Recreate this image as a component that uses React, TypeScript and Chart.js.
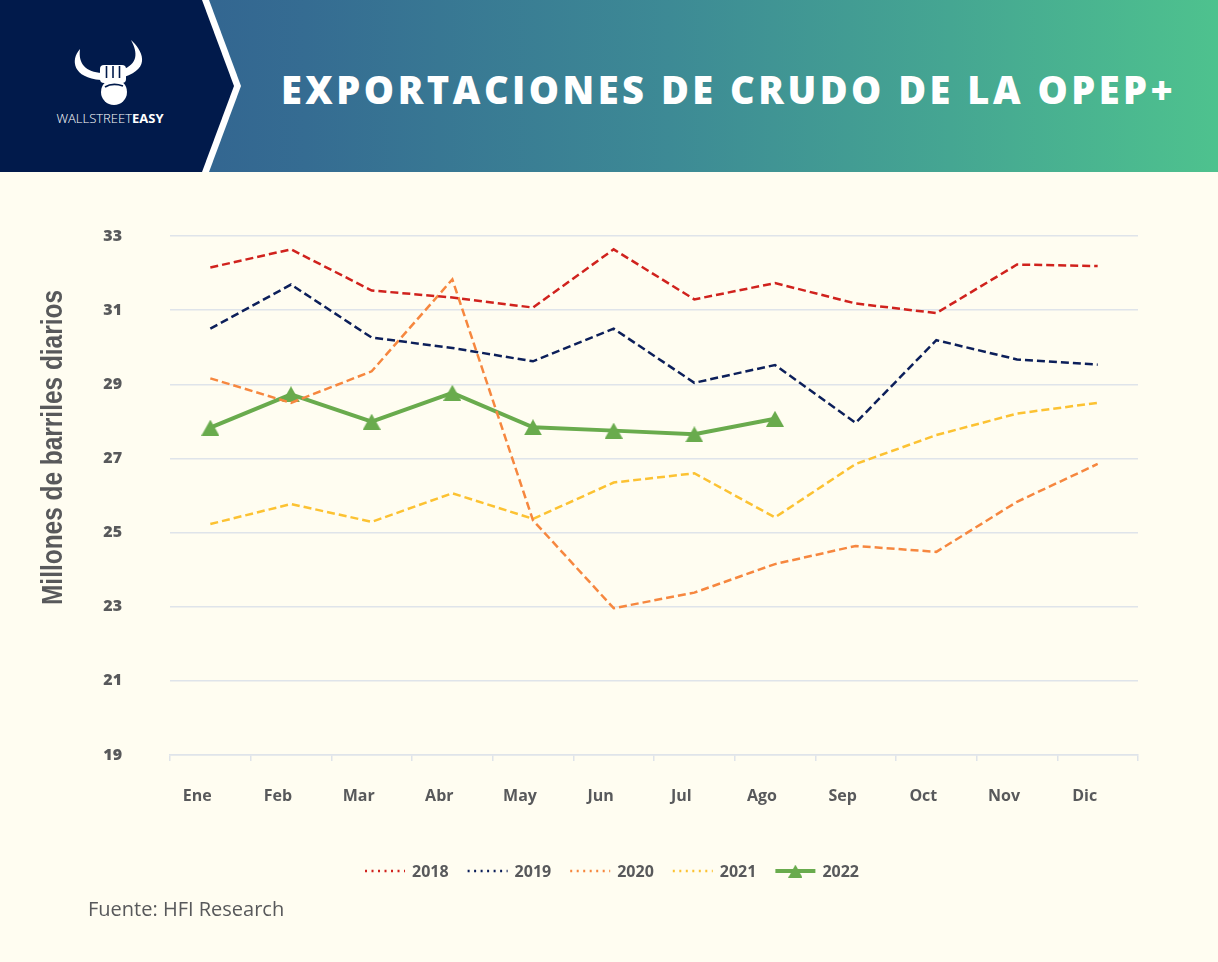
import React, { useEffect, useRef } from "react";
import { Chart, registerables } from "chart.js";

Chart.register(...registerables);

const months = ["Ene", "Feb", "Mar", "Abr", "May", "Jun", "Jul", "Ago", "Sep", "Oct", "Nov", "Dic"];
const y2018 = [32.15, 32.64, 31.53, 31.34, 31.07, 32.64, 31.29, 31.73, 31.18, 30.92, 32.23, 32.19];
const y2019 = [30.5, 31.69, 30.26, 29.98, 29.62, 30.5, 29.04, 29.52, 27.96, 30.19, 29.67, 29.53];
const y2020 = [29.16, 28.5, 29.35, 31.83, 25.33, 22.96, 23.38, 24.15, 24.64, 24.48, 25.83, 26.85];
const y2021 = [25.23, 25.77, 25.29, 26.06, 25.37, 26.35, 26.6, 25.41, 26.85, 27.63, 28.21, 28.5];
const y2022 = [27.83, 28.73, 27.99, 28.77, 27.84, 27.75, 27.65, 28.07];
const seriesLabels = ["2018", "2019", "2020", "2021", "2022"];
const yTicks = [19, 21, 23, 25, 27, 29, 31, 33];
const yTitle = "Millones de barriles diarios";

const TEXT = "#58595b";
const GRID = "#dfe4ea";
const BG = "#fffdf1";
const COLORS = ["#d0221d", "#0c1f5a", "#f6873f", "#fcc232", "#69ab4d"];

function makeTriangle(color: string) {
  const c = document.createElement("canvas");
  c.width = 18;
  c.height = 16;
  const g = c.getContext("2d")!;
  g.fillStyle = color;
  g.beginPath();
  g.moveTo(0, 16);
  g.lineTo(9, 0);
  g.lineTo(18, 16);
  g.closePath();
  g.fill();
  return c;
}

const yTitlePlugin = {
  id: "condensedYTitle",
  afterDraw(chart: any) {
    const ctx = chart.ctx as CanvasRenderingContext2D;
    ctx.save();
    ctx.font = "bold 29px 'Liberation Sans', Arial, sans-serif";
    const w = ctx.measureText(yTitle).width;
    const target = 315;
    ctx.translate(62, 275.5);
    ctx.rotate(-Math.PI / 2);
    ctx.scale(target / w, 1);
    ctx.fillStyle = TEXT;
    ctx.textAlign = "center";
    ctx.textBaseline = "alphabetic";
    ctx.fillText(yTitle, 0, 0);
    ctx.restore();
  },
};

const legendPlugin = {
  id: "customLegend",
  afterDraw(chart: any) {
    const ctx = chart.ctx as CanvasRenderingContext2D;
    const ds = chart.data.datasets;
    const y = chart.height - 31;
    ctx.save();
    ctx.font = "bold 16px 'Open Sans', sans-serif";
    const lineW = 40;
    const gap = 7;
    const itemGap = 19;
    const widths = ds.map((d: any) => lineW + gap + ctx.measureText(d.label).width);
    const total = widths.reduce((a: number, b: number) => a + b, 0) + itemGap * (ds.length - 1);
    let x = 612 - total / 2;
    ds.forEach((d: any, i: number) => {
      ctx.strokeStyle = d.borderColor;
      if (d.borderDash && d.borderDash.length) {
        ctx.setLineDash([2, 4.5]);
        ctx.lineWidth = 2.5;
      } else {
        ctx.setLineDash([]);
        ctx.lineWidth = 4;
      }
      ctx.beginPath();
      ctx.moveTo(x, y);
      ctx.lineTo(x + lineW, y);
      ctx.stroke();
      ctx.setLineDash([]);
      if (d.pointStyle && typeof d.pointStyle !== "string") {
        const img = d.pointStyle as HTMLCanvasElement;
        ctx.drawImage(img, x + lineW / 2 - 7, y - 6.5, 14, 13);
      }
      ctx.fillStyle = TEXT;
      ctx.textBaseline = "middle";
      ctx.textAlign = "left";
      ctx.fillText(d.label, x + lineW + gap, y + 1);
      x += widths[i] + itemGap;
    });
    ctx.restore();
  },
};

export default function App() {
  const ref = useRef<HTMLCanvasElement | null>(null);

  useEffect(() => {
    document.body.style.margin = "0";
    const canvas = ref.current!;
    const tri = makeTriangle(COLORS[4]);
    const dashed = (label: string, data: number[], color: string) => ({
      label,
      data,
      borderColor: color,
      backgroundColor: color,
      borderWidth: 2.5,
      borderDash: [8, 4],
      pointRadius: 0,
      fill: false,
      tension: 0,
    });
    const chart = new Chart(canvas, {
      type: "line",
      data: {
        labels: months,
        datasets: [
          dashed(seriesLabels[0], y2018, COLORS[0]),
          dashed(seriesLabels[1], y2019, COLORS[1]),
          dashed(seriesLabels[2], y2020, COLORS[2]),
          dashed(seriesLabels[3], y2021, COLORS[3]),
          {
            label: seriesLabels[4],
            data: y2022,
            borderColor: COLORS[4],
            backgroundColor: COLORS[4],
            borderWidth: 4,
            pointStyle: tri as any,
            pointRadius: 9,
            fill: false,
            tension: 0,
          },
        ],
      },
      options: {
        animation: false,
        responsive: false,
        devicePixelRatio: 1,
        layout: { padding: { top: 64, right: 80, bottom: 97, left: 0 } },
        plugins: { legend: { display: false }, tooltip: { enabled: false } },
        scales: {
          x: {
            offset: true,
            afterFit: (s: any) => {
              s.height = 50;
            },
            grid: {
              offset: true,
              drawOnChartArea: false,
              drawTicks: true,
              tickLength: 6,
              color: GRID,
              lineWidth: 1.5,
            },
            border: { display: true, color: GRID, width: 1.5 },
            ticks: {
              labelOffset: -13,
              padding: 26,
              color: TEXT,
              maxRotation: 0,
              autoSkip: false,
              font: { family: "'Open Sans', sans-serif", weight: "bold", size: 16 },
            },
          },
          y: {
            min: 19,
            max: 33,
            afterBuildTicks: (s: any) => {
              s.ticks = yTicks.map((v) => ({ value: v }));
            },
            afterFit: (s: any) => {
              s.width = 170;
            },
            grid: { color: GRID, lineWidth: 1.5, drawTicks: false },
            border: { display: false },
            ticks: {
              padding: 48,
              color: TEXT,
              font: { family: "'Open Sans', sans-serif", weight: "800", size: 16 },
            },
            title: { display: false },
          },
        },
      } as any,
      plugins: [legendPlugin, yTitlePlugin],
    });
    return () => chart.destroy();
  }, []);

  return (
    <div
      style={{
        position: "fixed",
        left: 0,
        top: 0,
        width: 1218,
        height: 962,
        background: BG,
        overflow: "hidden",
        fontFamily: "'Open Sans', sans-serif",
      }}
    >
      <div
        style={{
          position: "absolute",
          left: 0,
          top: 0,
          width: 1218,
          height: 172,
          background: "linear-gradient(90deg, #2f5a8e 0%, #356c92 25%, #3d8a95 55%, #45a692 78%, #4ec28e 100%)",
        }}
      >
        <svg width={250} height={172} style={{ position: "absolute", left: 0, top: 0 }}>
          <polygon points="0,0 209,0 241,86 209,172 0,172" fill="#ffffff" />
          <polygon points="0,0 202,0 234,86 202,172 0,172" fill="#011a4b" />
          <path d="M80,49 C70,60 73,78 101,80 L102,73 C86,72 78,64 80,49 Z" fill="#ffffff" />
          <path d="M131,40 C142,50 152,68 124,77 L122,70 C138,64 138,53 131,40 Z" fill="#ffffff" />
          <rect x={100} y={65} width={26} height={18} rx={4} fill="#ffffff" />
          <circle cx={114} cy={92} r={13} fill="#ffffff" />
          <line x1={106.5} y1={66} x2={106.5} y2={78} stroke="#011a4b" strokeWidth={1.6} />
          <line x1={113} y1={66} x2={113} y2={78} stroke="#011a4b" strokeWidth={1.6} />
          <line x1={119.5} y1={66} x2={119.5} y2={78} stroke="#011a4b" strokeWidth={1.6} />
          <path d="M105,87 C110,84 117,84 123,86" stroke="#011a4b" strokeWidth={1.8} fill="none" />
          <text x={110} y={123} textAnchor="middle" fontSize={13} fill="#ffffff" fontFamily="'Open Sans', sans-serif">
            <tspan fontWeight={300}>WALLSTREET</tspan>
            <tspan fontWeight={700}>EASY</tspan>
          </text>
        </svg>
        <div
          style={{
            position: "absolute",
            left: 281,
            top: 0,
            height: 172,
            paddingTop: 6,
            boxSizing: "border-box",
            display: "flex",
            alignItems: "center",
            color: "#ffffff",
            fontSize: 38,
            fontWeight: 800,
            letterSpacing: 3.5,
            whiteSpace: "nowrap",
          }}
        >
          EXPORTACIONES DE CRUDO DE LA OPEP+
        </div>
      </div>
      <canvas
        ref={ref}
        width={1218}
        height={730}
        style={{ position: "absolute", left: 0, top: 172, width: 1218, height: 730 }}
      />
      <div
        style={{
          position: "absolute",
          left: 88,
          top: 895,
          fontSize: 20,
          color: TEXT,
          whiteSpace: "nowrap",
        }}
      >
        Fuente: HFI Research
      </div>
    </div>
  );
}
